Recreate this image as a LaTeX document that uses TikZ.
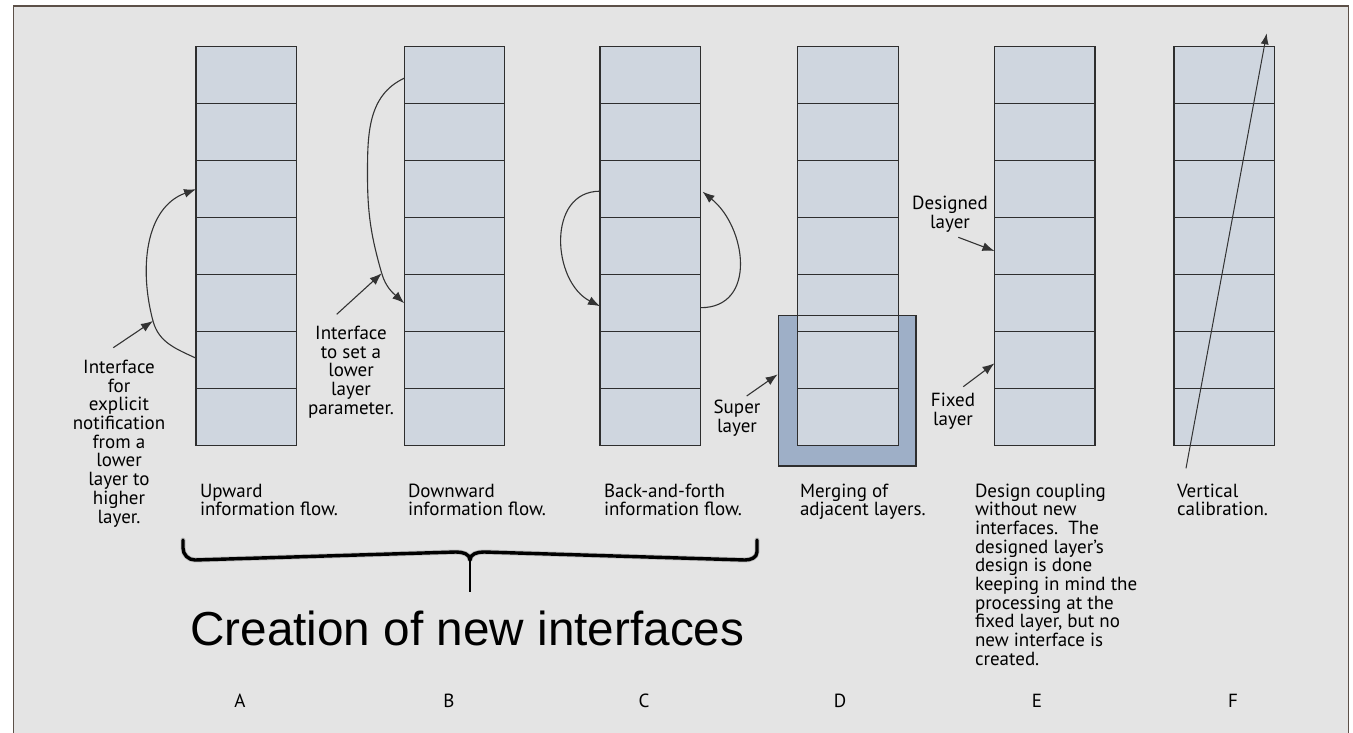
\documentclass[tikz,border=0pt]{standalone}
\usepackage{fontspec}
\usepackage{graphicx}
\setmainfont{PT Sans}
\newfontfamily\bigsans{Liberation Sans}
\usetikzlibrary{arrows.meta}

\definecolor{panel}{HTML}{E4E4E4}
\definecolor{framec}{HTML}{5C5048}
\definecolor{layerfill}{HTML}{CFD6DF}
\definecolor{superfill}{HTML}{9EAFC7}
\definecolor{edgec}{HTML}{2E2E2E}
\definecolor{linkc}{HTML}{333333}

\newcommand\notefont{\fontsize{19pt}{18.7pt}\selectfont}
\newcommand\bigfont{\bigsans\fontsize{47.7pt}{52pt}\selectfont}

\begin{document}
\begin{tikzpicture}[x=1pt,y=1pt,
  layer/.style={draw=edgec, fill=layerfill, line width=1.3pt,
    minimum width=100.5pt, minimum height=57pt, inner sep=0pt, outer sep=0pt},
  link/.style={draw=linkc, line width=1.1pt, -{Latex[length=12pt,width=9pt]}},
  curveline/.style={draw=linkc, line width=1.1pt},
  note/.style={inner sep=0pt, outer sep=0pt, anchor=base, font=\notefont},
  caption/.style={inner sep=0pt, outer sep=0pt, anchor=base west, font=\notefont},
  letter/.style={inner sep=0pt, outer sep=0pt, anchor=base, font=\notefont},
]
\useasboundingbox (0,0) rectangle (1353,732);
\fill[white] (0,0) rectangle (1353,732);

% panel with its frame (open at the bottom of the page)
\fill[panel] (13.3,-4) rectangle (1348.7,726);
\draw[framec, line width=1.3pt] (13.3,-4) -- (13.3,726) -- (1348.7,726) -- (1348.7,-4);

% super layer background of column D
\node[fill=superfill, minimum width=137.3pt, minimum height=150.7pt,
      inner sep=0pt, outer sep=0pt] (super) at (847.35,341.35) {};

% the six protocol stacks, seven layers each
\foreach \c/\x in {A/246.3, B/454.5, C/650.3, D/848.0, E/1044.7, F/1224.2}{
  \foreach \i in {1,...,7}{
    \node[layer] (\c\i) at (\x,{685.3-57*(\i-0.5)}) {};
  }
}

% outline of the super layer
\draw[edgec, line width=1.3pt] (super.south west) rectangle (super.north east);

% A: upward information flow
\coordinate (pA) at (153,411);
\draw[curveline] ([yshift=2pt]A6.west) to[out=155,in=-75] (pA);
\draw[link] (pA) to[out=105,in=200] (A3.west);
\coordinate (ptrA) at (113.3,384.3);
\draw[link] (ptrA) -- (pA);

% B: downward information flow
\coordinate (bL) at (367.5,557);
\coordinate (pB) at (381.7,458.7);
\draw[curveline] ([yshift=-3pt]B1.west) to[out=205,in=90] (bL) to[out=-90,in=106] (pB);
\draw[link] (pB) to[out=-74,in=138] (B5.west);
\coordinate (ptrB) at (336.7,417.7);
\draw[link] (ptrB) -- (pB);

% C: back-and-forth information flow
\draw[link, looseness=1.2] ([yshift=-2pt]C3.west) to[out=180,in=153] ([yshift=-3pt]C5.west);
\draw[link, looseness=1.25] ([yshift=-4.5pt]C5.east) to[out=0,in=-39] ([shift={(2pt,-2.5pt)}]C3.east);

% D: super layer pointer
\coordinate (ptrD) at (746.7,336);
\draw[link] (ptrD) -- ([shift={(-1pt,16.3pt)}]super.west);

% E: designed and fixed layer pointers
\coordinate (ptrE1) at (958.3,494.7);
\coordinate (ptrE2) at (963.3,345.3);
\draw[link] (ptrE1) -- ([yshift=-4.8pt]E4.west);
\draw[link] (ptrE2) -- ([yshift=-3.1pt]E6.west);

% F: vertical calibration line
\coordinate (calS) at (1186,263.7);
\coordinate (calE) at (1266.7,698.7);
\draw[draw=linkc, line width=1pt, -{Latex[length=11pt,width=8pt]}] (calS) -- (calE);

% notes beside the stacks
\node[note] (noteA) at (119,358.5) {\parbox[t]{130pt}{\centering Interface\\for\\explicit\\notification\\from a\\lower\\layer to\\higher\\layer.}};
\node[note] (noteB) at (351,392.5) {\parbox[t]{120pt}{\centering Interface\\to set a\\lower\\layer\\parameter.}};
\node[note] (noteD) at (737,318.5) {\parbox[t]{80pt}{\centering Super\\layer}};
\node[note] (noteE1) at (950,522) {\parbox[t]{90pt}{\centering Designed\\layer}};
\node[note] (noteE2) at (953,325.3) {\parbox[t]{80pt}{\centering Fixed\\layer}};

% captions under the stacks
\node[caption] (capA) at (200,235) {\parbox[t]{180pt}{\raggedright Upward\\information flow.}};
\node[caption] (capB) at (408,235) {\parbox[t]{180pt}{\raggedright Downward\\information flow.}};
\node[caption] (capC) at (604,235) {\parbox[t]{180pt}{\raggedright Back-and-forth\\information flow.}};
\node[caption] (capD) at (800,235) {\parbox[t]{180pt}{\raggedright Merging of\\adjacent layers.}};
\node[caption] (capE) at (975,235) {\parbox[t]{200pt}{\raggedright Design coupling\\without new\\interfaces.\ \ The\\designed layer’s\\design is done\\keeping in mind the\\processing at the\\fixed layer, but no\\new interface is\\created.}};
\node[caption] (capF) at (1177,235) {\parbox[t]{160pt}{\raggedright Vertical\\calibration.}};

% brace grouping A, B and C
\coordinate (brL) at (183,192);
\coordinate (brR) at (757,192);
\coordinate (brM) at (470,172);
\coordinate (brT) at (470,140);
\begin{scope}[shift={(1.5pt,-2pt)}]
  \draw[black!35, opacity=0.6, line width=5pt, line cap=round, line join=round]
    (brL) -- ++(0,-8) to[out=-90,in=180] ++(12,-12) -- ([xshift=-14pt,yshift=8pt]brM)
    to[out=0,in=90] (brM) to[out=90,in=180] ([xshift=14pt,yshift=8pt]brM)
    -- ([xshift=-12pt,yshift=-20pt]brR) to[out=0,in=-90] ([yshift=-12pt]brR) -- (brR);
\end{scope}
\draw[black, line width=3.4pt, line cap=round, line join=round]
  (brL) -- ++(0,-8) to[out=-90,in=180] ++(12,-12) -- ([xshift=-14pt,yshift=8pt]brM)
  to[out=0,in=90] (brM) to[out=90,in=180] ([xshift=14pt,yshift=8pt]brM)
  -- ([xshift=-12pt,yshift=-20pt]brR) to[out=0,in=-90] ([yshift=-12pt]brR) -- (brR);
\draw[black, line width=2.6pt] (brM) -- (brT);

\node[inner sep=0pt, anchor=base west, font=\bigfont] (title) at (190,87) {Creation of new interfaces};

% column letters
\node[letter] (lA) at (240,24.3) {A};
\node[letter] (lB) at (449,24.3) {B};
\node[letter] (lC) at (644,24.3) {C};
\node[letter] (lD) at (840,24.3) {D};
\node[letter] (lE) at (1037,24.3) {E};
\node[letter] (lF) at (1233,24.3) {F};
\end{tikzpicture}
\end{document}
